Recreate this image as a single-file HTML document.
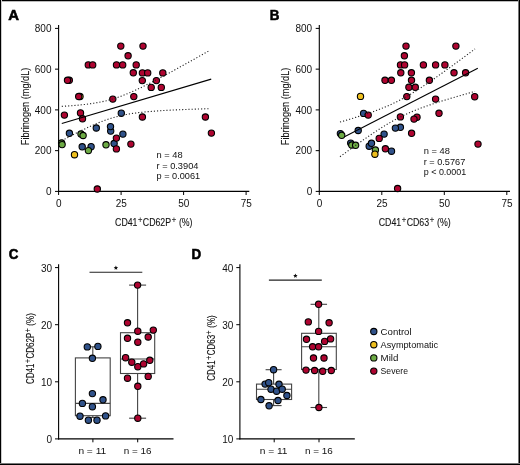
<!DOCTYPE html>
<html><head><meta charset="utf-8"><style>
html,body{margin:0;padding:0;background:#fff;}
body{width:520px;height:465px;overflow:hidden;position:relative;}
svg{position:absolute;left:0;top:0;will-change:transform;font-family:"Liberation Sans",sans-serif;fill:#000;}
text{fill:#111;}
.b{position:absolute;background:#000;}
</style></head><body>
<svg width="520" height="465" viewBox="0 0 520 465">
<line x1="58.60" y1="25.00" x2="58.60" y2="191.90" stroke="#000" stroke-width="1.1" />
<line x1="58.10" y1="191.40" x2="249.30" y2="191.40" stroke="#000" stroke-width="1.1" />
<line x1="55.00" y1="191.40" x2="58.60" y2="191.40" stroke="#000" stroke-width="1.0" />
<text x="51.50" y="195.10" font-size="10" text-anchor="end" font-weight="normal" >0</text>
<line x1="55.00" y1="150.65" x2="58.60" y2="150.65" stroke="#000" stroke-width="1.0" />
<text x="51.50" y="154.35" font-size="10" text-anchor="end" font-weight="normal" >200</text>
<line x1="55.00" y1="109.90" x2="58.60" y2="109.90" stroke="#000" stroke-width="1.0" />
<text x="51.50" y="113.60" font-size="10" text-anchor="end" font-weight="normal" >400</text>
<line x1="55.00" y1="69.15" x2="58.60" y2="69.15" stroke="#000" stroke-width="1.0" />
<text x="51.50" y="72.85" font-size="10" text-anchor="end" font-weight="normal" >600</text>
<line x1="55.00" y1="28.40" x2="58.60" y2="28.40" stroke="#000" stroke-width="1.0" />
<text x="51.50" y="32.10" font-size="10" text-anchor="end" font-weight="normal" >800</text>
<line x1="58.60" y1="191.40" x2="58.60" y2="195.00" stroke="#000" stroke-width="1.0" />
<text x="58.80" y="206.80" font-size="10" text-anchor="middle" font-weight="normal" >0</text>
<line x1="121.10" y1="191.40" x2="121.10" y2="195.00" stroke="#000" stroke-width="1.0" />
<text x="121.30" y="206.80" font-size="10" text-anchor="middle" font-weight="normal" >25</text>
<line x1="183.60" y1="191.40" x2="183.60" y2="195.00" stroke="#000" stroke-width="1.0" />
<text x="183.80" y="206.80" font-size="10" text-anchor="middle" font-weight="normal" >50</text>
<line x1="246.10" y1="191.40" x2="246.10" y2="195.00" stroke="#000" stroke-width="1.0" />
<text x="246.30" y="206.80" font-size="10" text-anchor="middle" font-weight="normal" >75</text>
<text transform="translate(28.6,106.4) rotate(-90)" font-size="10.8" text-anchor="middle" textLength="77.5" lengthAdjust="spacingAndGlyphs" stroke="#1a1a1a" stroke-width="0.12">Fibrinogen (mg/dL)</text>
<text x="153.8" y="226.4" font-size="11" stroke="#1a1a1a" stroke-width="0.12" text-anchor="middle" textLength="77.5" lengthAdjust="spacingAndGlyphs">CD41<tspan dx="0.7" dy="-3.5" font-size="9.5">+</tspan><tspan dx="0.5" dy="3.5">CD62P</tspan><tspan dx="0.7" dy="-3.5" font-size="9.5">+</tspan><tspan dx="0.5" dy="3.5"> (%)</tspan></text>
<line x1="319.30" y1="25.00" x2="319.30" y2="191.90" stroke="#000" stroke-width="1.1" />
<line x1="318.80" y1="191.40" x2="510.00" y2="191.40" stroke="#000" stroke-width="1.1" />
<line x1="315.70" y1="191.40" x2="319.30" y2="191.40" stroke="#000" stroke-width="1.0" />
<text x="312.20" y="195.10" font-size="10" text-anchor="end" font-weight="normal" >0</text>
<line x1="315.70" y1="150.65" x2="319.30" y2="150.65" stroke="#000" stroke-width="1.0" />
<text x="312.20" y="154.35" font-size="10" text-anchor="end" font-weight="normal" >200</text>
<line x1="315.70" y1="109.90" x2="319.30" y2="109.90" stroke="#000" stroke-width="1.0" />
<text x="312.20" y="113.60" font-size="10" text-anchor="end" font-weight="normal" >400</text>
<line x1="315.70" y1="69.15" x2="319.30" y2="69.15" stroke="#000" stroke-width="1.0" />
<text x="312.20" y="72.85" font-size="10" text-anchor="end" font-weight="normal" >600</text>
<line x1="315.70" y1="28.40" x2="319.30" y2="28.40" stroke="#000" stroke-width="1.0" />
<text x="312.20" y="32.10" font-size="10" text-anchor="end" font-weight="normal" >800</text>
<line x1="319.30" y1="191.40" x2="319.30" y2="195.00" stroke="#000" stroke-width="1.0" />
<text x="319.50" y="206.80" font-size="10" text-anchor="middle" font-weight="normal" >0</text>
<line x1="381.80" y1="191.40" x2="381.80" y2="195.00" stroke="#000" stroke-width="1.0" />
<text x="382.00" y="206.80" font-size="10" text-anchor="middle" font-weight="normal" >25</text>
<line x1="444.30" y1="191.40" x2="444.30" y2="195.00" stroke="#000" stroke-width="1.0" />
<text x="444.50" y="206.80" font-size="10" text-anchor="middle" font-weight="normal" >50</text>
<line x1="506.80" y1="191.40" x2="506.80" y2="195.00" stroke="#000" stroke-width="1.0" />
<text x="507.00" y="206.80" font-size="10" text-anchor="middle" font-weight="normal" >75</text>
<text transform="translate(289.3,106.4) rotate(-90)" font-size="10.8" text-anchor="middle" textLength="77.5" lengthAdjust="spacingAndGlyphs" stroke="#1a1a1a" stroke-width="0.12">Fibrinogen (mg/dL)</text>
<text x="414.7" y="226.4" font-size="11" stroke="#1a1a1a" stroke-width="0.12" text-anchor="middle" textLength="72" lengthAdjust="spacingAndGlyphs">CD41<tspan dx="0.7" dy="-3.5" font-size="9.5">+</tspan><tspan dx="0.5" dy="3.5">CD63</tspan><tspan dx="0.7" dy="-3.5" font-size="9.5">+</tspan><tspan dx="0.5" dy="3.5"> (%)</tspan></text>
<text x="156.50" y="158.40" font-size="9.6" text-anchor="start" font-weight="normal" textLength="26.2" lengthAdjust="spacingAndGlyphs">n = 48</text>
<text x="156.50" y="168.85" font-size="9.6" text-anchor="start" font-weight="normal" textLength="42.0" lengthAdjust="spacingAndGlyphs">r = 0.3904</text>
<text x="156.50" y="179.30" font-size="9.6" text-anchor="start" font-weight="normal" textLength="43.6" lengthAdjust="spacingAndGlyphs">p = 0.0061</text>
<text x="423.70" y="154.20" font-size="9.6" text-anchor="start" font-weight="normal" textLength="26.2" lengthAdjust="spacingAndGlyphs">n = 48</text>
<text x="423.70" y="164.65" font-size="9.6" text-anchor="start" font-weight="normal" textLength="41.6" lengthAdjust="spacingAndGlyphs">r = 0.5767</text>
<text x="423.70" y="175.10" font-size="9.6" text-anchor="start" font-weight="normal" textLength="42.6" lengthAdjust="spacingAndGlyphs">p &lt; 0.0001</text>
<circle cx="110.7" cy="131.1" r="3.15" fill="#30528a" stroke="#000" stroke-width="1.1"/>
<circle cx="110.5" cy="126.6" r="3.15" fill="#30528a" stroke="#000" stroke-width="1.1"/>
<circle cx="121.3" cy="113.2" r="3.15" fill="#30528a" stroke="#000" stroke-width="1.1"/>
<circle cx="69.4" cy="133.3" r="3.15" fill="#30528a" stroke="#000" stroke-width="1.1"/>
<circle cx="96.3" cy="128.0" r="3.15" fill="#30528a" stroke="#000" stroke-width="1.1"/>
<circle cx="122.9" cy="134.1" r="3.15" fill="#30528a" stroke="#000" stroke-width="1.1"/>
<circle cx="114.1" cy="143.5" r="3.15" fill="#30528a" stroke="#000" stroke-width="1.1"/>
<circle cx="82.2" cy="146.8" r="3.15" fill="#30528a" stroke="#000" stroke-width="1.1"/>
<circle cx="91.1" cy="146.7" r="3.15" fill="#30528a" stroke="#000" stroke-width="1.1"/>
<circle cx="61.6" cy="143.0" r="3.15" fill="#6dab45" stroke="#000" stroke-width="1.1"/>
<circle cx="62.1" cy="144.6" r="3.15" fill="#6dab45" stroke="#000" stroke-width="1.1"/>
<circle cx="81.0" cy="134.0" r="3.15" fill="#6dab45" stroke="#000" stroke-width="1.1"/>
<circle cx="83.1" cy="135.5" r="3.15" fill="#6dab45" stroke="#000" stroke-width="1.1"/>
<circle cx="88.4" cy="150.6" r="3.15" fill="#6dab45" stroke="#000" stroke-width="1.1"/>
<circle cx="106.0" cy="144.8" r="3.15" fill="#6dab45" stroke="#000" stroke-width="1.1"/>
<circle cx="74.5" cy="154.7" r="3.15" fill="#eebf1e" stroke="#000" stroke-width="1.1"/>
<circle cx="80.0" cy="96.5" r="3.15" fill="#eebf1e" stroke="#000" stroke-width="1.1"/>
<circle cx="120.8" cy="46.1" r="3.15" fill="#ae0430" stroke="#000" stroke-width="1.1"/>
<circle cx="143.0" cy="46.1" r="3.15" fill="#ae0430" stroke="#000" stroke-width="1.1"/>
<circle cx="128.1" cy="55.8" r="3.15" fill="#ae0430" stroke="#000" stroke-width="1.1"/>
<circle cx="88.3" cy="64.9" r="3.15" fill="#ae0430" stroke="#000" stroke-width="1.1"/>
<circle cx="92.7" cy="64.9" r="3.15" fill="#ae0430" stroke="#000" stroke-width="1.1"/>
<circle cx="116.5" cy="64.9" r="3.15" fill="#ae0430" stroke="#000" stroke-width="1.1"/>
<circle cx="122.7" cy="64.9" r="3.15" fill="#ae0430" stroke="#000" stroke-width="1.1"/>
<circle cx="136.2" cy="64.9" r="3.15" fill="#ae0430" stroke="#000" stroke-width="1.1"/>
<circle cx="133.3" cy="72.8" r="3.15" fill="#ae0430" stroke="#000" stroke-width="1.1"/>
<circle cx="142.4" cy="72.9" r="3.15" fill="#ae0430" stroke="#000" stroke-width="1.1"/>
<circle cx="147.7" cy="72.9" r="3.15" fill="#ae0430" stroke="#000" stroke-width="1.1"/>
<circle cx="162.8" cy="72.9" r="3.15" fill="#ae0430" stroke="#000" stroke-width="1.1"/>
<circle cx="69.3" cy="80.3" r="3.15" fill="#ae0430" stroke="#000" stroke-width="1.1"/>
<circle cx="67.5" cy="80.3" r="3.15" fill="#ae0430" stroke="#000" stroke-width="1.1"/>
<circle cx="142.3" cy="80.6" r="3.15" fill="#ae0430" stroke="#000" stroke-width="1.1"/>
<circle cx="156.4" cy="80.6" r="3.15" fill="#ae0430" stroke="#000" stroke-width="1.1"/>
<circle cx="151.2" cy="87.4" r="3.15" fill="#ae0430" stroke="#000" stroke-width="1.1"/>
<circle cx="161.3" cy="87.4" r="3.15" fill="#ae0430" stroke="#000" stroke-width="1.1"/>
<circle cx="78.7" cy="96.5" r="3.15" fill="#ae0430" stroke="#000" stroke-width="1.1"/>
<circle cx="112.8" cy="99.1" r="3.15" fill="#ae0430" stroke="#000" stroke-width="1.1"/>
<circle cx="133.8" cy="96.6" r="3.15" fill="#ae0430" stroke="#000" stroke-width="1.1"/>
<circle cx="64.4" cy="115.1" r="3.15" fill="#ae0430" stroke="#000" stroke-width="1.1"/>
<circle cx="80.5" cy="112.9" r="3.15" fill="#ae0430" stroke="#000" stroke-width="1.1"/>
<circle cx="82.5" cy="118.8" r="3.15" fill="#ae0430" stroke="#000" stroke-width="1.1"/>
<circle cx="142.4" cy="117.0" r="3.15" fill="#ae0430" stroke="#000" stroke-width="1.1"/>
<circle cx="205.4" cy="117.0" r="3.15" fill="#ae0430" stroke="#000" stroke-width="1.1"/>
<circle cx="211.4" cy="133.1" r="3.15" fill="#ae0430" stroke="#000" stroke-width="1.1"/>
<circle cx="116.4" cy="138.1" r="3.15" fill="#ae0430" stroke="#000" stroke-width="1.1"/>
<circle cx="116.4" cy="148.9" r="3.15" fill="#ae0430" stroke="#000" stroke-width="1.1"/>
<circle cx="130.9" cy="144.1" r="3.15" fill="#ae0430" stroke="#000" stroke-width="1.1"/>
<circle cx="97.3" cy="189.0" r="3.15" fill="#ae0430" stroke="#000" stroke-width="1.1"/>
<circle cx="363.6" cy="113.4" r="3.15" fill="#30528a" stroke="#000" stroke-width="1.1"/>
<circle cx="340.4" cy="133.6" r="3.15" fill="#30528a" stroke="#000" stroke-width="1.1"/>
<circle cx="358.2" cy="130.5" r="3.15" fill="#30528a" stroke="#000" stroke-width="1.1"/>
<circle cx="350.7" cy="143.1" r="3.15" fill="#30528a" stroke="#000" stroke-width="1.1"/>
<circle cx="384.1" cy="134.1" r="3.15" fill="#30528a" stroke="#000" stroke-width="1.1"/>
<circle cx="369.2" cy="146.2" r="3.15" fill="#30528a" stroke="#000" stroke-width="1.1"/>
<circle cx="371.5" cy="143.3" r="3.15" fill="#30528a" stroke="#000" stroke-width="1.1"/>
<circle cx="391.5" cy="151.2" r="3.15" fill="#30528a" stroke="#000" stroke-width="1.1"/>
<circle cx="400.4" cy="127.3" r="3.15" fill="#30528a" stroke="#000" stroke-width="1.1"/>
<circle cx="395.4" cy="128.1" r="3.15" fill="#30528a" stroke="#000" stroke-width="1.1"/>
<circle cx="341.7" cy="135.3" r="3.15" fill="#6dab45" stroke="#000" stroke-width="1.1"/>
<circle cx="351.8" cy="145.0" r="3.15" fill="#6dab45" stroke="#000" stroke-width="1.1"/>
<circle cx="355.6" cy="145.3" r="3.15" fill="#6dab45" stroke="#000" stroke-width="1.1"/>
<circle cx="375.4" cy="150.0" r="3.15" fill="#6dab45" stroke="#000" stroke-width="1.1"/>
<circle cx="360.5" cy="96.4" r="3.15" fill="#eebf1e" stroke="#000" stroke-width="1.1"/>
<circle cx="374.9" cy="154.2" r="3.15" fill="#eebf1e" stroke="#000" stroke-width="1.1"/>
<circle cx="406.0" cy="46.1" r="3.15" fill="#ae0430" stroke="#000" stroke-width="1.1"/>
<circle cx="455.9" cy="46.1" r="3.15" fill="#ae0430" stroke="#000" stroke-width="1.1"/>
<circle cx="404.4" cy="55.8" r="3.15" fill="#ae0430" stroke="#000" stroke-width="1.1"/>
<circle cx="400.5" cy="64.9" r="3.15" fill="#ae0430" stroke="#000" stroke-width="1.1"/>
<circle cx="404.6" cy="64.9" r="3.15" fill="#ae0430" stroke="#000" stroke-width="1.1"/>
<circle cx="423.4" cy="64.9" r="3.15" fill="#ae0430" stroke="#000" stroke-width="1.1"/>
<circle cx="435.6" cy="64.9" r="3.15" fill="#ae0430" stroke="#000" stroke-width="1.1"/>
<circle cx="444.9" cy="64.9" r="3.15" fill="#ae0430" stroke="#000" stroke-width="1.1"/>
<circle cx="400.8" cy="72.8" r="3.15" fill="#ae0430" stroke="#000" stroke-width="1.1"/>
<circle cx="411.4" cy="72.8" r="3.15" fill="#ae0430" stroke="#000" stroke-width="1.1"/>
<circle cx="454.0" cy="72.8" r="3.15" fill="#ae0430" stroke="#000" stroke-width="1.1"/>
<circle cx="465.6" cy="72.8" r="3.15" fill="#ae0430" stroke="#000" stroke-width="1.1"/>
<circle cx="385.0" cy="80.3" r="3.15" fill="#ae0430" stroke="#000" stroke-width="1.1"/>
<circle cx="391.4" cy="80.3" r="3.15" fill="#ae0430" stroke="#000" stroke-width="1.1"/>
<circle cx="411.5" cy="80.3" r="3.15" fill="#ae0430" stroke="#000" stroke-width="1.1"/>
<circle cx="429.4" cy="80.3" r="3.15" fill="#ae0430" stroke="#000" stroke-width="1.1"/>
<circle cx="408.9" cy="87.3" r="3.15" fill="#ae0430" stroke="#000" stroke-width="1.1"/>
<circle cx="415.3" cy="87.3" r="3.15" fill="#ae0430" stroke="#000" stroke-width="1.1"/>
<circle cx="406.8" cy="96.6" r="3.15" fill="#ae0430" stroke="#000" stroke-width="1.1"/>
<circle cx="435.6" cy="99.1" r="3.15" fill="#ae0430" stroke="#000" stroke-width="1.1"/>
<circle cx="474.7" cy="96.7" r="3.15" fill="#ae0430" stroke="#000" stroke-width="1.1"/>
<circle cx="368.2" cy="115.1" r="3.15" fill="#ae0430" stroke="#000" stroke-width="1.1"/>
<circle cx="400.4" cy="116.9" r="3.15" fill="#ae0430" stroke="#000" stroke-width="1.1"/>
<circle cx="417.0" cy="117.2" r="3.15" fill="#ae0430" stroke="#000" stroke-width="1.1"/>
<circle cx="414.0" cy="119.1" r="3.15" fill="#ae0430" stroke="#000" stroke-width="1.1"/>
<circle cx="439.0" cy="113.3" r="3.15" fill="#ae0430" stroke="#000" stroke-width="1.1"/>
<circle cx="411.6" cy="133.3" r="3.15" fill="#ae0430" stroke="#000" stroke-width="1.1"/>
<circle cx="379.2" cy="138.4" r="3.15" fill="#ae0430" stroke="#000" stroke-width="1.1"/>
<circle cx="385.4" cy="148.8" r="3.15" fill="#ae0430" stroke="#000" stroke-width="1.1"/>
<circle cx="478.0" cy="144.1" r="3.15" fill="#ae0430" stroke="#000" stroke-width="1.1"/>
<circle cx="397.6" cy="188.5" r="3.15" fill="#ae0430" stroke="#000" stroke-width="1.1"/>
<path d="M61.80,106.36 L64.27,106.21 L66.74,106.04 L69.21,105.87 L71.68,105.69 L74.15,105.49 L76.62,105.28 L79.09,105.05 L81.56,104.80 L84.03,104.53 L86.50,104.24 L88.97,103.92 L91.44,103.58 L93.91,103.20 L96.38,102.79 L98.85,102.34 L101.32,101.85 L103.79,101.32 L106.26,100.74 L108.73,100.10 L111.20,99.42 L113.67,98.69 L116.14,97.90 L118.61,97.06 L121.08,96.18 L123.55,95.24 L126.02,94.26 L128.49,93.24 L130.96,92.18 L133.43,91.09 L135.90,89.97 L138.37,88.81 L140.84,87.64 L143.31,86.43 L145.78,85.21 L148.25,83.97 L150.72,82.72 L153.19,81.45 L155.66,80.16 L158.13,78.87 L160.60,77.56 L163.07,76.25 L165.54,74.92 L168.01,73.59 L170.48,72.25 L172.95,70.91 L175.42,69.56 L177.89,68.20 L180.36,66.84 L182.83,65.47 L185.30,64.10 L187.77,62.73 L190.24,61.35 L192.71,59.97 L195.18,58.59 L197.65,57.21 L200.12,55.82 L202.59,54.43 L205.06,53.04 L207.53,51.64 L210.00,50.25" fill="none" stroke="#222" stroke-width="1.1" stroke-dasharray="1.15 2.0"/>
<path d="M61.80,140.64 L64.27,139.32 L66.74,138.02 L69.21,136.72 L71.68,135.44 L74.15,134.17 L76.62,132.91 L79.09,131.68 L81.56,130.45 L84.03,129.25 L86.50,128.08 L88.97,126.93 L91.44,125.80 L93.91,124.71 L96.38,123.65 L98.85,122.63 L101.32,121.66 L103.79,120.72 L106.26,119.84 L108.73,119.00 L111.20,118.21 L113.67,117.48 L116.14,116.80 L118.61,116.17 L121.08,115.59 L123.55,115.06 L126.02,114.57 L128.49,114.12 L130.96,113.71 L133.43,113.33 L135.90,112.99 L138.37,112.67 L140.84,112.38 L143.31,112.12 L145.78,111.87 L148.25,111.64 L150.72,111.43 L153.19,111.23 L155.66,111.05 L158.13,110.87 L160.60,110.71 L163.07,110.56 L165.54,110.41 L168.01,110.28 L170.48,110.15 L172.95,110.03 L175.42,109.91 L177.89,109.80 L180.36,109.69 L182.83,109.59 L185.30,109.49 L187.77,109.39 L190.24,109.30 L192.71,109.21 L195.18,109.13 L197.65,109.04 L200.12,108.96 L202.59,108.88 L205.06,108.81 L207.53,108.73 L210.00,108.66" fill="none" stroke="#222" stroke-width="1.1" stroke-dasharray="1.15 2.0"/>
<line x1="61.80" y1="123.50" x2="211.20" y2="79.10" stroke="#000" stroke-width="1.1" />
<path d="M340.00,122.08 L342.25,121.43 L344.50,120.77 L346.75,120.10 L349.00,119.43 L351.25,118.75 L353.50,118.06 L355.75,117.37 L358.00,116.66 L360.25,115.95 L362.50,115.23 L364.75,114.49 L367.00,113.74 L369.25,112.98 L371.50,112.20 L373.75,111.40 L376.00,110.59 L378.25,109.75 L380.50,108.88 L382.75,108.00 L385.00,107.08 L387.25,106.13 L389.50,105.15 L391.75,104.14 L394.00,103.09 L396.25,102.00 L398.50,100.87 L400.75,99.71 L403.00,98.50 L405.25,97.26 L407.50,95.98 L409.75,94.67 L412.00,93.32 L414.25,91.95 L416.50,90.54 L418.75,89.10 L421.00,87.64 L423.25,86.16 L425.50,84.66 L427.75,83.14 L430.00,81.60 L432.25,80.05 L434.50,78.48 L436.75,76.90 L439.00,75.31 L441.25,73.71 L443.50,72.10 L445.75,70.48 L448.00,68.85 L450.25,67.22 L452.50,65.58 L454.75,63.93 L457.00,62.28 L459.25,60.63 L461.50,58.97 L463.75,57.30 L466.00,55.64 L468.25,53.97 L470.50,52.29 L472.75,50.61 L475.00,48.93" fill="none" stroke="#222" stroke-width="1.1" stroke-dasharray="1.15 2.0"/>
<path d="M340.00,156.75 L342.25,155.09 L344.50,153.45 L346.75,151.80 L349.00,150.17 L351.25,148.54 L353.50,146.92 L355.75,145.30 L358.00,143.70 L360.25,142.10 L362.50,140.52 L364.75,138.94 L367.00,137.38 L369.25,135.84 L371.50,134.31 L373.75,132.80 L376.00,131.31 L378.25,129.84 L380.50,128.39 L382.75,126.97 L385.00,125.58 L387.25,124.22 L389.50,122.89 L391.75,121.60 L394.00,120.34 L396.25,119.12 L398.50,117.94 L400.75,116.79 L403.00,115.69 L405.25,114.62 L407.50,113.59 L409.75,112.60 L412.00,111.63 L414.25,110.70 L416.50,109.80 L418.75,108.93 L421.00,108.08 L423.25,107.25 L425.50,106.45 L427.75,105.66 L430.00,104.89 L432.25,104.14 L434.50,103.39 L436.75,102.66 L439.00,101.95 L441.25,101.24 L443.50,100.54 L445.75,99.85 L448.00,99.17 L450.25,98.49 L452.50,97.83 L454.75,97.16 L457.00,96.50 L459.25,95.85 L461.50,95.20 L463.75,94.56 L466.00,93.92 L468.25,93.28 L470.50,92.65 L472.75,92.01 L475.00,91.39" fill="none" stroke="#222" stroke-width="1.1" stroke-dasharray="1.15 2.0"/>
<line x1="344.50" y1="136.71" x2="477.80" y2="68.32" stroke="#000" stroke-width="1.1" />
<line x1="58.60" y1="264.30" x2="58.60" y2="439.40" stroke="#000" stroke-width="1.1" />
<line x1="58.10" y1="438.90" x2="173.50" y2="438.90" stroke="#000" stroke-width="1.1" />
<line x1="55.00" y1="438.90" x2="58.60" y2="438.90" stroke="#000" stroke-width="1.0" />
<text x="52.00" y="442.80" font-size="10" text-anchor="end" font-weight="normal" >0</text>
<line x1="55.00" y1="381.80" x2="58.60" y2="381.80" stroke="#000" stroke-width="1.0" />
<text x="52.00" y="385.70" font-size="10" text-anchor="end" font-weight="normal" >10</text>
<line x1="55.00" y1="324.70" x2="58.60" y2="324.70" stroke="#000" stroke-width="1.0" />
<text x="52.00" y="328.60" font-size="10" text-anchor="end" font-weight="normal" >20</text>
<line x1="55.00" y1="267.60" x2="58.60" y2="267.60" stroke="#000" stroke-width="1.0" />
<text x="52.00" y="271.50" font-size="10" text-anchor="end" font-weight="normal" >30</text>
<line x1="92.90" y1="438.90" x2="92.90" y2="442.30" stroke="#000" stroke-width="1.0" />
<line x1="137.70" y1="438.90" x2="137.70" y2="442.30" stroke="#000" stroke-width="1.0" />
<text x="92.3" y="454.2" font-size="9" text-anchor="middle" textLength="27.8" lengthAdjust="spacingAndGlyphs">n = 11</text>
<text x="137.6" y="454.2" font-size="9" text-anchor="middle" textLength="27.8" lengthAdjust="spacingAndGlyphs">n = 16</text>
<text transform="translate(34.2,348.6) rotate(-90)" font-size="10.4" stroke="#1a1a1a" stroke-width="0.12" text-anchor="middle" textLength="70.8" lengthAdjust="spacingAndGlyphs">CD41<tspan dx="0.7" dy="-3.3" font-size="9">+</tspan><tspan dx="0.5" dy="3.3">CD62P</tspan><tspan dx="0.7" dy="-3.3" font-size="9">+</tspan><tspan dx="0.5" dy="3.3"> (%)</tspan></text>
<line x1="239.90" y1="264.30" x2="239.90" y2="439.40" stroke="#000" stroke-width="1.1" />
<line x1="239.40" y1="438.90" x2="354.80" y2="438.90" stroke="#000" stroke-width="1.1" />
<line x1="236.30" y1="438.90" x2="239.90" y2="438.90" stroke="#000" stroke-width="1.0" />
<text x="233.30" y="442.80" font-size="10" text-anchor="end" font-weight="normal" >10</text>
<line x1="236.30" y1="381.80" x2="239.90" y2="381.80" stroke="#000" stroke-width="1.0" />
<text x="233.30" y="385.70" font-size="10" text-anchor="end" font-weight="normal" >20</text>
<line x1="236.30" y1="324.70" x2="239.90" y2="324.70" stroke="#000" stroke-width="1.0" />
<text x="233.30" y="328.60" font-size="10" text-anchor="end" font-weight="normal" >30</text>
<line x1="236.30" y1="267.60" x2="239.90" y2="267.60" stroke="#000" stroke-width="1.0" />
<text x="233.30" y="271.50" font-size="10" text-anchor="end" font-weight="normal" >40</text>
<line x1="274.20" y1="438.90" x2="274.20" y2="442.30" stroke="#000" stroke-width="1.0" />
<line x1="319.00" y1="438.90" x2="319.00" y2="442.30" stroke="#000" stroke-width="1.0" />
<text x="273.6" y="454.2" font-size="9" text-anchor="middle" textLength="27.8" lengthAdjust="spacingAndGlyphs">n = 11</text>
<text x="318.9" y="454.2" font-size="9" text-anchor="middle" textLength="27.8" lengthAdjust="spacingAndGlyphs">n = 16</text>
<text transform="translate(215.4,348.0) rotate(-90)" font-size="10.4" stroke="#1a1a1a" stroke-width="0.12" text-anchor="middle" textLength="65.3" lengthAdjust="spacingAndGlyphs">CD41<tspan dx="0.7" dy="-3.3" font-size="9">+</tspan><tspan dx="0.5" dy="3.3">CD63</tspan><tspan dx="0.7" dy="-3.3" font-size="9">+</tspan><tspan dx="0.5" dy="3.3"> (%)</tspan></text>
<line x1="92.80" y1="346.80" x2="92.80" y2="357.90" stroke="#444" stroke-width="1.1" />
<line x1="92.80" y1="415.70" x2="92.80" y2="417.50" stroke="#444" stroke-width="1.1" />
<line x1="87.30" y1="346.80" x2="98.30" y2="346.80" stroke="#444" stroke-width="1.1" />
<line x1="87.30" y1="417.50" x2="98.30" y2="417.50" stroke="#444" stroke-width="1.1" />
<rect x="75.40" y="357.90" width="34.80" height="57.80" fill="none" stroke="#444" stroke-width="1.1"/>
<line x1="75.40" y1="403.40" x2="110.20" y2="403.40" stroke="#444" stroke-width="1.1" />
<line x1="137.60" y1="285.10" x2="137.60" y2="332.70" stroke="#444" stroke-width="1.1" />
<line x1="137.60" y1="373.50" x2="137.60" y2="418.20" stroke="#444" stroke-width="1.1" />
<line x1="129.10" y1="285.10" x2="146.10" y2="285.10" stroke="#444" stroke-width="1.1" />
<line x1="129.10" y1="418.20" x2="146.10" y2="418.20" stroke="#444" stroke-width="1.1" />
<rect x="120.50" y="332.70" width="34.20" height="40.80" fill="none" stroke="#444" stroke-width="1.1"/>
<line x1="120.50" y1="359.00" x2="154.70" y2="359.00" stroke="#444" stroke-width="1.1" />
<line x1="273.60" y1="369.70" x2="273.60" y2="384.10" stroke="#444" stroke-width="1.1" />
<line x1="273.60" y1="399.50" x2="273.60" y2="405.60" stroke="#444" stroke-width="1.1" />
<line x1="265.60" y1="369.70" x2="281.60" y2="369.70" stroke="#444" stroke-width="1.1" />
<line x1="265.60" y1="405.60" x2="281.60" y2="405.60" stroke="#444" stroke-width="1.1" />
<rect x="256.50" y="384.10" width="35.10" height="15.40" fill="none" stroke="#444" stroke-width="1.1"/>
<line x1="256.50" y1="389.20" x2="291.60" y2="389.20" stroke="#444" stroke-width="1.1" />
<line x1="318.80" y1="304.30" x2="318.80" y2="333.30" stroke="#444" stroke-width="1.1" />
<line x1="318.80" y1="369.50" x2="318.80" y2="407.50" stroke="#444" stroke-width="1.1" />
<line x1="310.55" y1="304.30" x2="327.05" y2="304.30" stroke="#444" stroke-width="1.1" />
<line x1="310.55" y1="407.50" x2="327.05" y2="407.50" stroke="#444" stroke-width="1.1" />
<rect x="301.60" y="333.30" width="34.70" height="36.20" fill="none" stroke="#444" stroke-width="1.1"/>
<line x1="301.60" y1="346.80" x2="336.30" y2="346.80" stroke="#444" stroke-width="1.1" />
<line x1="89.50" y1="272.20" x2="142.30" y2="272.20" stroke="#222" stroke-width="1.1" />
<polygon points="115.90,265.60 116.55,267.01 118.09,267.19 116.95,268.24 117.25,269.76 115.90,269.00 114.55,269.76 114.85,268.24 113.71,267.19 115.25,267.01" fill="#111"/>
<line x1="268.90" y1="280.10" x2="321.80" y2="280.10" stroke="#222" stroke-width="1.1" />
<polygon points="295.40,273.50 296.05,274.91 297.59,275.09 296.45,276.14 296.75,277.66 295.40,276.90 294.05,277.66 294.35,276.14 293.21,275.09 294.75,274.91" fill="#111"/>
<circle cx="87.3" cy="346.9" r="3.15" fill="#30528a" stroke="#000" stroke-width="1.1"/>
<circle cx="97.9" cy="346.4" r="3.15" fill="#30528a" stroke="#000" stroke-width="1.1"/>
<circle cx="92.4" cy="358.3" r="3.15" fill="#30528a" stroke="#000" stroke-width="1.1"/>
<circle cx="92.4" cy="393.6" r="3.15" fill="#30528a" stroke="#000" stroke-width="1.1"/>
<circle cx="103.0" cy="399.8" r="3.15" fill="#30528a" stroke="#000" stroke-width="1.1"/>
<circle cx="82.4" cy="403.4" r="3.15" fill="#30528a" stroke="#000" stroke-width="1.1"/>
<circle cx="92.4" cy="406.7" r="3.15" fill="#30528a" stroke="#000" stroke-width="1.1"/>
<circle cx="80.0" cy="416.2" r="3.15" fill="#30528a" stroke="#000" stroke-width="1.1"/>
<circle cx="105.6" cy="415.9" r="3.15" fill="#30528a" stroke="#000" stroke-width="1.1"/>
<circle cx="88.4" cy="420.2" r="3.15" fill="#30528a" stroke="#000" stroke-width="1.1"/>
<circle cx="97.0" cy="420.2" r="3.15" fill="#30528a" stroke="#000" stroke-width="1.1"/>
<circle cx="137.6" cy="285.1" r="3.15" fill="#ae0430" stroke="#000" stroke-width="1.1"/>
<circle cx="127.5" cy="322.8" r="3.15" fill="#ae0430" stroke="#000" stroke-width="1.1"/>
<circle cx="137.8" cy="331.2" r="3.15" fill="#ae0430" stroke="#000" stroke-width="1.1"/>
<circle cx="153.3" cy="330.1" r="3.15" fill="#ae0430" stroke="#000" stroke-width="1.1"/>
<circle cx="127.5" cy="338.3" r="3.15" fill="#ae0430" stroke="#000" stroke-width="1.1"/>
<circle cx="137.8" cy="342.2" r="3.15" fill="#ae0430" stroke="#000" stroke-width="1.1"/>
<circle cx="148.2" cy="337.0" r="3.15" fill="#ae0430" stroke="#000" stroke-width="1.1"/>
<circle cx="125.6" cy="357.7" r="3.15" fill="#ae0430" stroke="#000" stroke-width="1.1"/>
<circle cx="131.8" cy="362.2" r="3.15" fill="#ae0430" stroke="#000" stroke-width="1.1"/>
<circle cx="137.8" cy="366.7" r="3.15" fill="#ae0430" stroke="#000" stroke-width="1.1"/>
<circle cx="143.6" cy="363.9" r="3.15" fill="#ae0430" stroke="#000" stroke-width="1.1"/>
<circle cx="149.8" cy="360.3" r="3.15" fill="#ae0430" stroke="#000" stroke-width="1.1"/>
<circle cx="127.5" cy="378.2" r="3.15" fill="#ae0430" stroke="#000" stroke-width="1.1"/>
<circle cx="148.2" cy="376.4" r="3.15" fill="#ae0430" stroke="#000" stroke-width="1.1"/>
<circle cx="137.8" cy="386.3" r="3.15" fill="#ae0430" stroke="#000" stroke-width="1.1"/>
<circle cx="137.8" cy="418.2" r="3.15" fill="#ae0430" stroke="#000" stroke-width="1.1"/>
<circle cx="273.6" cy="369.7" r="3.15" fill="#30528a" stroke="#000" stroke-width="1.1"/>
<circle cx="265.1" cy="384.1" r="3.15" fill="#30528a" stroke="#000" stroke-width="1.1"/>
<circle cx="268.7" cy="382.7" r="3.15" fill="#30528a" stroke="#000" stroke-width="1.1"/>
<circle cx="279.0" cy="384.3" r="3.15" fill="#30528a" stroke="#000" stroke-width="1.1"/>
<circle cx="271.0" cy="389.2" r="3.15" fill="#30528a" stroke="#000" stroke-width="1.1"/>
<circle cx="276.6" cy="391.2" r="3.15" fill="#30528a" stroke="#000" stroke-width="1.1"/>
<circle cx="282.2" cy="389.2" r="3.15" fill="#30528a" stroke="#000" stroke-width="1.1"/>
<circle cx="286.9" cy="395.5" r="3.15" fill="#30528a" stroke="#000" stroke-width="1.1"/>
<circle cx="260.9" cy="399.5" r="3.15" fill="#30528a" stroke="#000" stroke-width="1.1"/>
<circle cx="278.0" cy="400.5" r="3.15" fill="#30528a" stroke="#000" stroke-width="1.1"/>
<circle cx="269.1" cy="405.8" r="3.15" fill="#30528a" stroke="#000" stroke-width="1.1"/>
<circle cx="318.6" cy="304.3" r="3.15" fill="#ae0430" stroke="#000" stroke-width="1.1"/>
<circle cx="308.3" cy="321.9" r="3.15" fill="#ae0430" stroke="#000" stroke-width="1.1"/>
<circle cx="329.1" cy="322.8" r="3.15" fill="#ae0430" stroke="#000" stroke-width="1.1"/>
<circle cx="318.6" cy="331.4" r="3.15" fill="#ae0430" stroke="#000" stroke-width="1.1"/>
<circle cx="306.5" cy="339.3" r="3.15" fill="#ae0430" stroke="#000" stroke-width="1.1"/>
<circle cx="324.6" cy="341.4" r="3.15" fill="#ae0430" stroke="#000" stroke-width="1.1"/>
<circle cx="330.6" cy="338.9" r="3.15" fill="#ae0430" stroke="#000" stroke-width="1.1"/>
<circle cx="312.6" cy="346.8" r="3.15" fill="#ae0430" stroke="#000" stroke-width="1.1"/>
<circle cx="318.6" cy="346.8" r="3.15" fill="#ae0430" stroke="#000" stroke-width="1.1"/>
<circle cx="313.5" cy="358.0" r="3.15" fill="#ae0430" stroke="#000" stroke-width="1.1"/>
<circle cx="324.0" cy="358.0" r="3.15" fill="#ae0430" stroke="#000" stroke-width="1.1"/>
<circle cx="306.0" cy="370.1" r="3.15" fill="#ae0430" stroke="#000" stroke-width="1.1"/>
<circle cx="314.6" cy="370.5" r="3.15" fill="#ae0430" stroke="#000" stroke-width="1.1"/>
<circle cx="322.7" cy="371.3" r="3.15" fill="#ae0430" stroke="#000" stroke-width="1.1"/>
<circle cx="331.3" cy="370.5" r="3.15" fill="#ae0430" stroke="#000" stroke-width="1.1"/>
<circle cx="318.9" cy="407.5" r="3.15" fill="#ae0430" stroke="#000" stroke-width="1.1"/>
<circle cx="373.8" cy="331.5" r="3.15" fill="#30528a" stroke="#000" stroke-width="1.1"/>
<text x="380.60" y="334.70" font-size="9.3" text-anchor="start" font-weight="normal" textLength="31.0" lengthAdjust="spacingAndGlyphs">Control</text>
<circle cx="373.8" cy="344.7" r="3.15" fill="#eebf1e" stroke="#000" stroke-width="1.1"/>
<text x="380.60" y="347.90" font-size="9.3" text-anchor="start" font-weight="normal" textLength="57.6" lengthAdjust="spacingAndGlyphs">Asymptomatic</text>
<circle cx="373.8" cy="357.9" r="3.15" fill="#6dab45" stroke="#000" stroke-width="1.1"/>
<text x="380.60" y="361.10" font-size="9.3" text-anchor="start" font-weight="normal" textLength="17.8" lengthAdjust="spacingAndGlyphs">Mild</text>
<circle cx="373.8" cy="371.1" r="3.15" fill="#ae0430" stroke="#000" stroke-width="1.1"/>
<text x="380.60" y="374.30" font-size="9.3" text-anchor="start" font-weight="normal" textLength="27.4" lengthAdjust="spacingAndGlyphs">Severe</text>
<text transform="translate(8.3,19.6) scale(1.08,1)" font-size="13.8" font-weight="bold" style="fill:#000;stroke:#000;stroke-width:0.55px">A</text>
<text transform="translate(269.8,19.9) scale(0.97,1)" font-size="13.8" font-weight="bold" style="fill:#000;stroke:#000;stroke-width:0.55px">B</text>
<text transform="translate(8.8,259.4) scale(0.97,1)" font-size="13.8" font-weight="bold" style="fill:#000;stroke:#000;stroke-width:0.55px">C</text>
<text transform="translate(191.6,259.2) scale(0.97,1)" font-size="13.8" font-weight="bold" style="fill:#000;stroke:#000;stroke-width:0.55px">D</text>
</svg>
<div class="b" style="left:0;top:0;width:520px;height:1px"></div>
<div class="b" style="left:0;top:1px;width:520px;height:1px;background:#bbb"></div>
<div class="b" style="left:0;top:0;width:1px;height:465px"></div>
<div class="b" style="left:1px;top:0;width:1px;height:465px;background:#ccc"></div>
<div class="b" style="left:519px;top:0;width:1px;height:465px"></div>
<div class="b" style="left:518px;top:0;width:1px;height:465px;background:#777"></div>
<div class="b" style="left:0;top:464px;width:520px;height:1px"></div>
<div class="b" style="left:0;top:463px;width:520px;height:1px;background:#777"></div>
</body></html>
